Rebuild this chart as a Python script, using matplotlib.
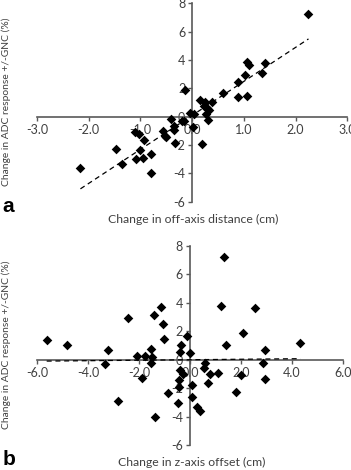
import matplotlib
matplotlib.use('Agg')
import matplotlib.pyplot as plt
import numpy as np

plt.rcParams['font.family'] = ['Lato', 'DejaVu Sans']

# panel a: off-axis distance (cm) vs change in ADC response (%)
off_axis = [2.25, 1.07, 1.09, 1.40, 1.36, 1.02, 0.88, 0.89, 1.06, 0.59,
            -0.14, 0.15, 0.25, 0.39, 0.22, 0.28, 0.33, 0.26, 0.30, -0.04,
            0.03, 0.01, 0.20, -0.20, -0.15, -0.41, -0.36, -0.35, -0.57, -0.53,
            -0.50, -0.34, -1.10, -1.03, -0.94, -1.01, -1.09, -0.95, -0.80, -0.79,
            -1.36, -1.47, -2.16]
adc_a = [7.23, 3.83, 3.64, 3.76, 3.10, 2.93, 2.46, 1.36, 1.43, 1.69,
         1.88, 1.17, 1.06, 1.03, 0.75, 0.59, 0.47, 0.19, -0.23, 0.23,
         0.19, -0.70, -1.92, -0.28, -0.28, -0.16, -0.63, -0.94, -1.01, -1.34,
         -1.41, -1.83, -1.10, -1.22, -1.67, -2.35, -3.00, -2.93, -2.65, -4.01,
         -3.36, -2.28, -3.59]
trend_a = (2.40, 0.09)  # slope, intercept of the dashed trendline

# panel b: z-axis offset (cm) vs change in ADC response (%)
z_offset = [1.33, 1.22, 2.56, 2.09, 1.40, 4.33, 2.95, 2.85, 2.95, 1.80,
            2.01, 1.10, 0.80, 0.72, 0.58, 0.54, 0.01, -0.10, -0.34, -0.41,
            -0.41, -0.26, -0.44, -0.43, 0.08, 0.08, 0.27, 0.38, -0.47, -0.86,
            -1.37, -1.12, -1.42, -1.06, -1.03, -1.52, -1.50, -1.52, -1.75, -2.08,
            -1.90, -2.43, -3.23, -3.33, -2.82, -4.84, -5.62]
adc_b = [7.24, 3.79, 3.63, 1.90, 1.05, 1.19, 0.70, -0.26, -1.36, -2.25,
         -1.05, -0.96, -1.03, -1.66, -0.26, -0.56, 0.49, 1.69, 1.03, 0.52,
         -0.70, -1.03, -1.41, -1.94, -1.78, -2.65, -3.35, -3.58, -3.02, -2.37,
         -4.00, 3.72, 3.11, 2.48, 1.45, 0.75, 0.16, -0.21, 0.28, 0.26,
         -1.31, 2.93, 0.66, -0.30, -2.90, 1.01, 1.38]
trend_b = (0.017, -0.01)

x_ticks_a = [-3.0, -2.0, -1.0, 0.0, 1.0, 2.0, 3.0]
x_ticks_b = [-6.0, -4.0, -2.0, 0.0, 2.0, 4.0, 6.0]
y_ticks = [-6, -4, -2, 0, 2, 4, 6, 8]

ylab = 'Change in ADC response +/-GNC (%)'
axcol = '#595959'
txtcol = '#404040'

fig = plt.figure(figsize=(3.51, 4.70), dpi=100)
ax1 = fig.add_axes([0.1054, 0.5709, 0.884, 0.4220])
ax2 = fig.add_axes([0.1054, 0.0532, 0.872, 0.4240])


def style(ax, x, y, trend, xticks):
    x = np.array(x)
    y = np.array(y)
    ax.scatter(x, y, marker='D', s=24, color='black', zorder=4, linewidths=0)
    k, b = trend
    xs = np.array([x.min(), x.max()])
    ax.plot(xs, k * xs + b, color='black', lw=0.9, ls=(0, (4, 3)), zorder=3)
    ax.set_xlim(xticks[0], xticks[-1])
    ax.set_ylim(-6, 8)
    ax.set_xticks(xticks)
    ax.set_xticklabels(['%.1f' % v for v in xticks])
    ax.set_yticks(y_ticks)
    ax.set_yticklabels([str(v) for v in y_ticks])
    for s in ['top', 'right']:
        ax.spines[s].set_visible(False)
    for s in ['left', 'bottom']:
        ax.spines[s].set_position(('data', 0))
        ax.spines[s].set_color(axcol)
        ax.spines[s].set_linewidth(1.2)
        ax.spines[s].set_zorder(2)
    ax.tick_params(axis='both', colors=axcol, labelsize=9, width=1.0,
                   length=3, direction='out', pad=2, labelcolor=txtcol)
    ax.patch.set_visible(False)


style(ax1, off_axis, adc_a, trend_a, x_ticks_a)
style(ax2, z_offset, adc_b, trend_b, x_ticks_b)

fig.text(0.017, 0.7826, ylab, rotation=90, ha='center', va='center',
         fontsize=7.4, color=txtcol)
fig.text(0.017, 0.266, ylab, rotation=90, ha='center', va='center',
         fontsize=7.4, color=txtcol)
fig.text(0.55, 0.532, 'Change in off-axis distance (cm)', ha='center', va='center',
         fontsize=8.8, color=txtcol)
fig.text(0.545, 0.015, 'Change in z-axis offset (cm)', ha='center', va='center',
         fontsize=8.8, color=txtcol)
fig.text(0.008, 0.549, 'a', fontsize=15, fontweight='bold',
         family=['Liberation Sans', 'DejaVu Sans'], ha='left', va='baseline')
fig.text(0.008, 0.011, 'b', fontsize=15, fontweight='bold',
         family=['Liberation Sans', 'DejaVu Sans'], ha='left', va='baseline')

fig.savefig('out.png', dpi=100)
